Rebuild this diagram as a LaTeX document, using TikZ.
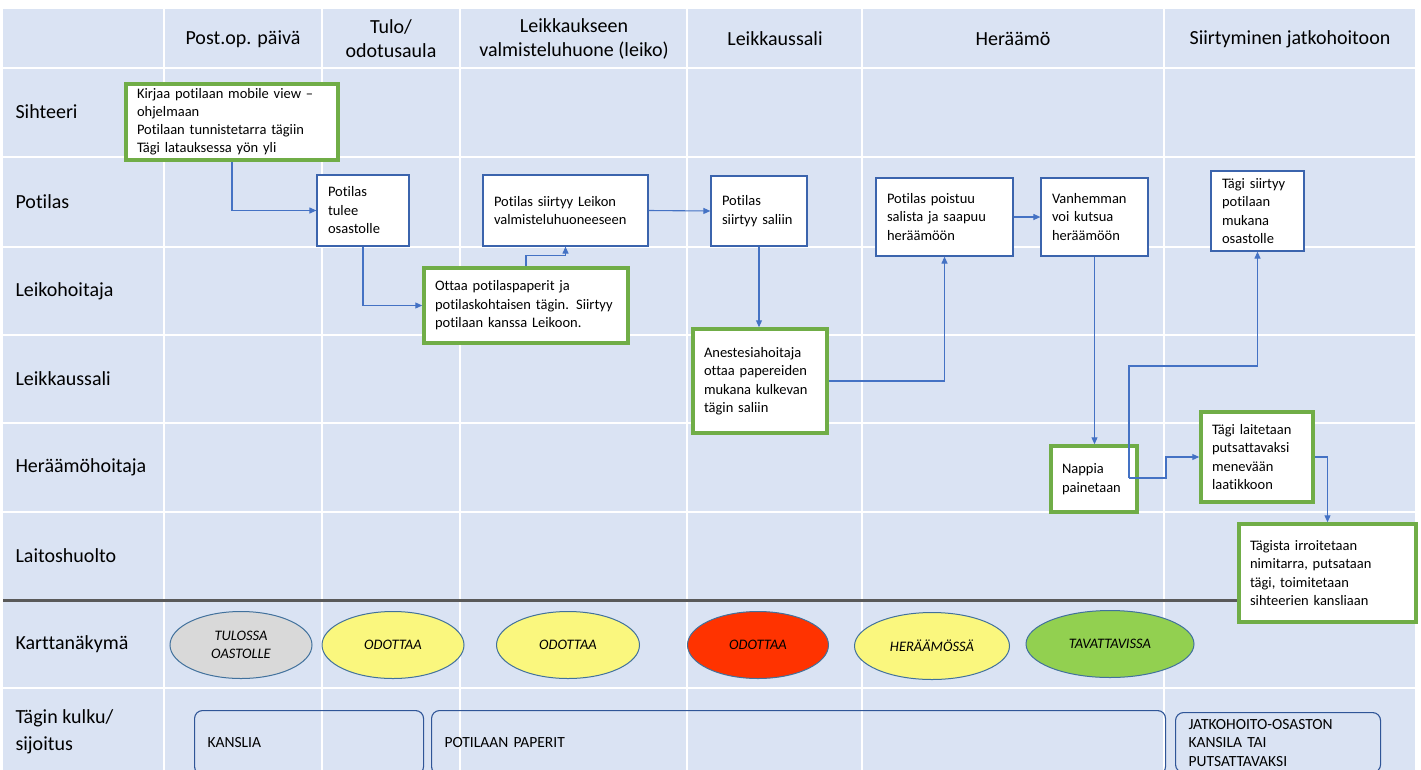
\documentclass[tikz,border=0pt]{standalone}
\usepackage{fontspec}
\setmainfont{Carlito}[Ligatures=NoCommon]
\usetikzlibrary{arrows.meta,shapes.geometric}
\definecolor{lane}{HTML}{DAE3F3}
\definecolor{rule}{HTML}{595959}
\definecolor{boxblue}{HTML}{3B64AD}
\definecolor{boxgreen}{HTML}{70AD47}
\definecolor{flowblue}{HTML}{4472C4}
\definecolor{ringblue}{HTML}{41719C}
\definecolor{tagblue}{HTML}{2F5597}
\definecolor{stgrey}{HTML}{D9D9D9}
\definecolor{styellow}{HTML}{FAF77E}
\definecolor{stred}{HTML}{FF3300}
\definecolor{stgreen}{HTML}{92D050}

\begin{document}
\begin{tikzpicture}[x=1pt, y=-1pt,
	flow/.style={draw=flowblue, line width=1.1pt, -{Triangle[length=7pt,width=6pt]}},
	head/.style={align=center, font=\fontsize{20}{24}\selectfont},
	lane label/.style={anchor=west, align=left, font=\fontsize{20}{27}\selectfont},
	box/.style={draw=boxblue, fill=white, line width=1.2pt, align=left, inner xsep=11pt, inner ysep=0pt, font=\fontsize{14.5}{18.5}\selectfont},
	gbox/.style={box, draw=boxgreen, line width=3.5pt},
	state/.style={ellipse, draw=ringblue, line width=1pt, minimum height=67pt, inner sep=0pt, align=center, font=\fontsize{14.5}{18}\selectfont\itshape},
	tag/.style={draw=tagblue, line width=1.1pt, rounded corners=8pt, anchor=north west, align=left, inner xsep=13pt, inner ysep=0pt, minimum height=64pt, font=\fontsize{15.5}{18.5}\selectfont}]
	\useasboundingbox (0,0) rectangle (1421,769);
	\clip (0,0) rectangle (1421,769);
	\fill[lane] (3,9) rectangle (1415,790);
	\draw[white, line width=2.5pt] (164,9) -- (164,790) (322,9) -- (322,790) (460,9) -- (460,790)
		(687,9) -- (687,790) (862,9) -- (862,790) (1164,9) -- (1164,790);
	\draw[white, line width=2.5pt] (3,68) -- (1415,68) (3,157) -- (1415,157) (3,247) -- (1415,247)
		(3,335) -- (1415,335) (3,423) -- (1415,423) (3,512) -- (1415,512) (3,688) -- (1415,688);
	\draw[rule, line width=3pt] (3,600) -- (1415,600);

	\node[head] (C1) at (243,39) {Post.op. päivä};
	\node[head] (C2) at (391,39) {Tulo/\\odotusaula};
	\node[head] (C3) at (574,39) {Leikkaukseen\\valmisteluhuone (leiko)};
	\node[head] (C4) at (775,39) {Leikkaussali};
	\node[head] (C5) at (1013,39) {Heräämö};
	\node[head] (C6) at (1290,39) {Siirtyminen jatkohoitoon};

	\node[lane label] (R1) at (12,112) {Sihteeri};
	\node[lane label] (R2) at (12,202) {Potilas};
	\node[lane label] (R3) at (12,291) {Leikohoitaja};
	\node[lane label] (R4) at (12,379) {Leikkaussali};
	\node[lane label] (R5) at (12,467) {Heräämöhoitaja};
	\node[lane label] (R6) at (12,556) {Laitoshuolto};
	\node[lane label] (R7) at (12,644) {Karttanäkymä};
	\node[lane label] (R8) at (12,732) {Tägin kulku/\\sijoitus};

	\node[gbox, text width=190pt, minimum height=76pt, font=\fontsize{14.5}{18}\selectfont] (S1) at (232,122)
		{Kirjaa potilaan mobile view –\\ohjelmaan\\Potilaan tunnistetarra tägiin\\Tägi latauksessa yön yli};
	\node[box, text width=70pt, minimum height=71pt] (P1) at (363,210.5) {Potilas\\tulee\\osastolle};
	\node[box, text width=143pt, minimum height=71pt] (P2) at (565.5,210.5) {Potilas siirtyy Leikon\\valmisteluhuoneeseen};
	\node[gbox, text width=182pt, minimum height=75pt] (L1) at (526,305.5)
		{Ottaa potilaspaperit ja\\potilaskohtaisen tägin. Siirtyy\\potilaan kanssa Leikoon.};
	\node[box, text width=74pt, minimum height=70pt] (P3) at (759,211) {Potilas\\siirtyy saliin};
	\node[box, text width=115pt, minimum height=78pt] (P4) at (944.5,217) {Potilas poistuu\\salista ja saapuu\\heräämöön};
	\node[box, text width=85pt, minimum height=78pt] (P5) at (1094.5,217) {Vanhemman\\voi kutsua\\heräämöön};
	\node[box, text width=71pt, minimum height=80pt] (P6) at (1257.5,211) {Tägi siirtyy\\potilaan\\mukana\\osastolle};
	\node[gbox, text width=112pt, minimum height=104pt] (A1) at (760,381)
		{Anestesiahoitaja\\ottaa papereiden\\mukana kulkevan\\tägin saliin};
	\node[gbox, text width=64pt, minimum height=66pt] (H1) at (1094,479) {Nappia\\painetaan};
	\node[gbox, text width=90pt, minimum height=90pt] (H2) at (1257,457) {Tägi laitetaan\\putsattavaksi\\menevään\\laatikkoon};
	\node[gbox, text width=155pt, minimum height=98pt] (W1) at (1327.5,573)
		{Tägista irroitetaan\\nimitarra, putsataan\\tägi, toimitetaan\\sihteerien kansliaan};

	\node[state, fill=stgrey, minimum width=142pt] (E1) at (241,645) {TULOSSA\\OASTOLLE};
	\node[state, fill=styellow, minimum width=142pt] (E2) at (393,645) {ODOTTAA};
	\node[state, fill=styellow, minimum width=143pt] (E3) at (568,645) {ODOTTAA};
	\node[state, fill=stred, minimum width=141pt] (E4) at (758,645) {ODOTTAA};
	\node[state, fill=styellow, minimum width=155pt] (E5) at (932,646) {HERÄÄMÖSSÄ};
	\node[state, fill=stgreen, minimum width=168pt] (E6) at (1110,644) {TAVATTAVISSA};

	\node[tag, text width=203pt] (T1) at (194,710) {KANSLIA};
	\node[tag, text width=708pt] (T2) at (431,710) {POTILAAN PAPERIT};
	\node[tag, text width=179pt, minimum height=60pt] (T3) at (1175,712) {JATKOHOITO-OSASTON\\KANSILA TAI\\PUTSATTAVAKSI};

	\coordinate (J) at (1129,478);
	\draw[flow] (S1.south) |- (P1.west);
	\draw[flow] (P1.south) |- (L1.west);
	\draw[flow] (L1.north) -- ++(0,-11) -| (P2.south);
	\draw[flow] (P2.east) -- (P3.west);
	\draw[flow] (P3.south) -- (P3.south |- A1.north);
	\draw[flow] (A1.east) -| (P4.south);
	\draw[flow] (P4.east) -- (P5.west);
	\draw[flow] (P5.south) -- (P5.south |- H1.north);
	\draw[flow] (J) -- ++(37,0) |- (H2.west);
	\draw[flow] (J) -- ++(0,-112) -| (P6.south);
	\draw[flow] (H2.east) -| (W1.north);
\end{tikzpicture}
\end{document}
